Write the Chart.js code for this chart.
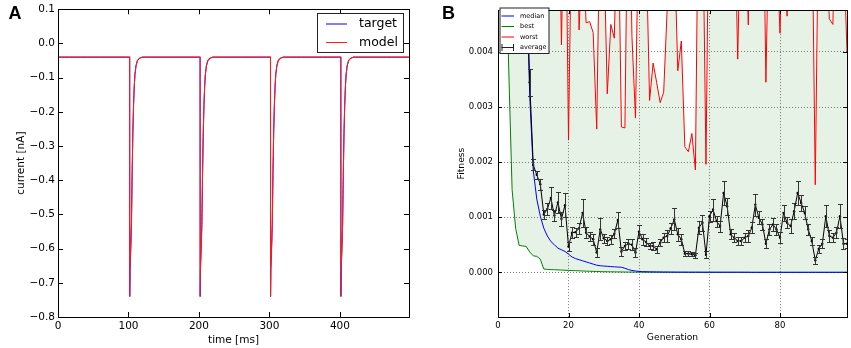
<!DOCTYPE html>
<html>
<head>
<meta charset="utf-8">
<script src="https://cdn.jsdelivr.net/npm/chart.js@4.4.0/dist/chart.umd.min.js"></script>
<style>
html, body { margin: 0; padding: 0; background: #fff; }
#wrap { position: relative; width: 851px; height: 348px; }
.panel { position: absolute; top: 0; height: 348px; }
#pa { left: 0; width: 430px; }
#pb { left: 430px; width: 421px; }
</style>
</head>
<body>
<div id="wrap">
  <div class="panel" id="pa"><canvas id="chartA"></canvas></div>
  <div class="panel" id="pb"><canvas id="chartB"></canvas></div>
</div>
<script>
// ---- panel A: current trace ----
const restCurrent = -0.04;
const timeMax = 498;
const spikeTimes = [101.7, 201.6, 301.5, 401.3];
// shape of one spike: offset [ms] after onset, current [nA]
const spikeDt = [0, 0.1, 0.5, 1.5, 2.5, 3.5, 4.5, 5.5, 6.5, 7.5, 9, 11, 14, 18];
const spikeI = [-0.04, -0.74, -0.66, -0.6, -0.53, -0.38, -0.26, -0.18, -0.125, -0.09, -0.065, -0.05, -0.043, -0.04];
const xTicksA = [0, 100, 200, 300, 400];
const yTicksA = [-0.8, -0.7, -0.6, -0.5, -0.4, -0.3, -0.2, -0.1, 0.0, 0.1];

// ---- panel B: fitness per generation (values in units of 1e-3) ----
const FIT = 1e-3;
const medianFit = [14, 13, 12, 11, 10, 9, 8, 7, 5.4, 3.2,
  1.85, 1.33, 1.02, 0.8, 0.66, 0.56, 0.5, 0.44, 0.41, 0.38,
  0.33, 0.28, 0.25, 0.23, 0.21, 0.19, 0.17, 0.15, 0.13, 0.12,
  0.115, 0.11, 0.105, 0.1, 0.097, 0.093, 0.075, 0.05, 0.035, 0.025,
  0.018, 0.014, 0.012, 0.01, 0.009, 0.008, 0.007, 0.006, 0.006, 0.005,
  0.005, 0.004, 0.004, 0.004, 0.003, 0.003, 0.003, 0.003, 0.002, 0.002,
  0.002, 0.002, 0.002, 0.002, 0.002, 0.002, 0.002, 0.002, 0.002, 0.002,
  0.002, 0.002, 0.001, 0.001, 0.001, 0.001, 0.001, 0.001, 0.001, 0.001,
  0.001, 0.001, 0.001, 0.001, 0.001, 0.001, 0.001, 0.001, 0.001, 0.001,
  0.001, 0.001, 0.001, 0.001, 0.001, 0.001, 0.001, 0.001, 0.001, 0.001];
const bestFit = [11, 9, 7, 3.8, 1.5, 0.8, 0.49, 0.48, 0.47, 0.37,
  0.3, 0.29, 0.24, 0.06, 0.055, 0.05, 0.048, 0.045, 0.042, 0.038,
  0.035, 0.032, 0.03, 0.028, 0.025, 0.022, 0.02, 0.018, 0.016, 0.014,
  0.012, 0.011, 0.01, 0.009, 0.008, 0.007, 0.006, 0.005, 0.005, 0.004,
  0.004, 0.003, 0.003, 0.003, 0.003, 0.003, 0.003, 0.003, 0.003, 0.003,
  0.002, 0.002, 0.002, 0.002, 0.002, 0.002, 0.002, 0.002, 0.002, 0.002,
  0.002, 0.002, 0.002, 0.002, 0.002, 0.002, 0.002, 0.002, 0.002, 0.002,
  0.001, 0.001, 0.001, 0.001, 0.001, 0.001, 0.001, 0.001, 0.001, 0.001,
  0.001, 0.001, 0.001, 0.001, 0.001, 0.001, 0.001, 0.001, 0.001, 0.001,
  0.001, 0.001, 0.001, 0.001, 0.001, 0.001, 0.001, 0.001, 0.001, 0.001];
const worstFit = [14, 13, 12, 12, 11, 11, 10, 10, 9, 9,
  8, 7, 6, 4.6, 8, 8, 7, 8, 4.13, 8,
  2.4, 7, 8, 4.4, 6, 4.53, 4.55, 4.35, 2.6, 7,
  6, 3.24, 4.5, 4.25, 7, 2.64, 2.62, 8, 4.28, 2.8,
  7, 8, 6, 3.12, 3.8, 3.45, 3.08, 3.27, 4.8, 8,
  6, 3.66, 4.2, 2.28, 2.19, 2.52, 1.86, 8, 7, 1.96,
  8, 7, 8, 6, 9, 7, 8, 7, 3.87, 7,
  7, 4.49, 8, 7, 6, 8, 3.45, 7, 8, 6,
  4.34, 7, 4.65, 8, 7, 8, 7, 6, 8, 7,
  1.59, 7, 8, 6, 4.6, 4.5, 8, 7, 6, 3.99];
const avgFit = [12, 11, 10.5, 10, 9.5, 9, 8.5, 7.5, 5.6, 3.45,
  1.95, 1.77, 1.6, 1.05, 1.15, 1.35, 1.03, 1.27, 0.97, 1.22,
  0.47, 0.72, 0.73, 0.8, 1.08, 0.72, 0.65, 0.6, 0.36, 0.78,
  0.62, 0.57, 0.6, 0.7, 0.95, 0.38, 0.48, 0.52, 0.5, 0.36,
  0.74, 0.6, 0.55, 0.48, 0.48, 0.42, 0.54, 0.63, 0.66, 0.8,
  0.96, 0.69, 0.6, 0.34, 0.34, 0.33, 0.31, 0.81, 0.9, 0.32,
  1.02, 1.14, 0.93, 0.84, 1.44, 1.2, 0.69, 0.63, 0.57, 0.57,
  0.63, 0.66, 0.81, 1.23, 0.99, 0.87, 0.52, 0.78, 0.87, 0.78,
  0.63, 1.08, 0.9, 0.84, 1.11, 1.44, 1.26, 1.08, 0.78, 0.57,
  0.22, 0.43, 0.52, 1.02, 0.66, 0.63, 0.72, 1.02, 0.52, 0.52];
const avgErr = [0.5, 0.5, 0.5, 0.5, 0.5, 0.5, 0.5, 0.5, 0.4, 0.24,
  0.1, 0.07, 0.1, 0.08, 0.1, 0.2, 0.1, 0.19, 0.12, 0.22,
  0.08, 0.1, 0.08, 0.1, 0.25, 0.1, 0.08, 0.1, 0.08, 0.2,
  0.08, 0.07, 0.08, 0.08, 0.15, 0.08, 0.08, 0.09, 0.1, 0.08,
  0.12, 0.1, 0.07, 0.06, 0.07, 0.06, 0.07, 0.08, 0.1, 0.1,
  0.2, 0.12, 0.1, 0.05, 0.04, 0.04, 0.05, 0.12, 0.15, 0.06,
  0.1, 0.2, 0.1, 0.1, 0.22, 0.15, 0.09, 0.08, 0.07, 0.07,
  0.08, 0.1, 0.1, 0.2, 0.12, 0.1, 0.08, 0.1, 0.12, 0.1,
  0.1, 0.15, 0.1, 0.12, 0.15, 0.22, 0.15, 0.12, 0.1, 0.08,
  0.06, 0.07, 0.08, 0.2, 0.1, 0.08, 0.1, 0.22, 0.1, 0.08];
const generations = medianFit.map((_, i) => i);
const xTicksB = [0, 20, 40, 60, 80];
const yTicksB = [0, 0.001, 0.002, 0.003, 0.004];

// build trace points for panel A
const tracePts = [{x: 0, y: restCurrent}];
spikeTimes.forEach(t0 => {
  spikeDt.forEach((dt, i) => tracePts.push({x: t0 + dt, y: spikeI[i]}));
});
tracePts.push({x: timeMax, y: restCurrent});

function fitSeries(vals) {
  return vals.map((v, i) => ({x: generations[i], y: v * FIT}));
}

// frame + matplotlib-style inward ticks on all four sides
function frameTicks(len) {
  return {
    id: 'frameTicks',
    afterDraw(chart) {
      const {ctx, chartArea: a, scales: {x, y}} = chart;
      ctx.save();
      ctx.strokeStyle = '#000';
      ctx.lineWidth = 1;
      ctx.beginPath();
      x.ticks.forEach(t => {
        const px = Math.round(x.getPixelForValue(t.value)) + 0.5;
        ctx.moveTo(px, a.bottom); ctx.lineTo(px, a.bottom - len);
        ctx.moveTo(px, a.top); ctx.lineTo(px, a.top + len);
      });
      y.ticks.forEach(t => {
        const py = Math.round(y.getPixelForValue(t.value)) + 0.5;
        ctx.moveTo(a.left, py); ctx.lineTo(a.left + len, py);
        ctx.moveTo(a.right, py); ctx.lineTo(a.right - len, py);
      });
      ctx.stroke();
      ctx.strokeRect(Math.round(a.left) + 0.5, Math.round(a.top) + 0.5,
        Math.round(a.right - a.left), Math.round(a.bottom - a.top));
      ctx.restore();
    }
  };
}

function panelLetter(text, px, py) {
  return {
    id: 'panelLetter',
    afterDraw(chart) {
      const ctx = chart.ctx;
      ctx.save();
      ctx.font = 'bold 18px "Liberation Sans", Arial, sans-serif';
      ctx.fillStyle = '#000';
      ctx.textAlign = 'center';
      ctx.textBaseline = 'middle';
      ctx.fillText(text, px, py);
      ctx.restore();
    }
  };
}

// legend box drawn inside the plot like matplotlib's
function boxLegend(opt) {
  return {
    id: 'boxLegend',
    afterDraw(chart) {
      const ctx = chart.ctx;
      ctx.save();
      ctx.fillStyle = '#fff';
      ctx.strokeStyle = '#222';
      ctx.lineWidth = 1;
      ctx.fillRect(opt.x, opt.y, opt.w, opt.h);
      ctx.strokeRect(opt.x + 0.5, opt.y + 0.5, opt.w, opt.h);
      ctx.font = opt.font;
      ctx.textBaseline = 'middle';
      ctx.fillStyle = '#000';
      opt.items.forEach((it, i) => {
        const ly = opt.y + opt.first + i * opt.step;
        ctx.strokeStyle = it.color;
        ctx.beginPath();
        ctx.moveTo(opt.x + opt.lineX0, ly);
        ctx.lineTo(opt.x + opt.lineX1, ly);
        if (it.errbar) {
          ctx.moveTo(opt.x + opt.lineX0 + 0.5, ly - 3.5); ctx.lineTo(opt.x + opt.lineX0 + 0.5, ly + 3.5);
          ctx.moveTo(opt.x + opt.lineX1 - 0.5, ly - 3.5); ctx.lineTo(opt.x + opt.lineX1 - 0.5, ly + 3.5);
        }
        ctx.stroke();
        ctx.fillText(it.label, opt.x + opt.textX, ly);
      });
      ctx.restore();
    }
  };
}

const errorBars = {
  id: 'errorBars',
  afterDatasetsDraw(chart) {
    const {ctx, chartArea: a, scales: {x, y}} = chart;
    ctx.save();
    ctx.beginPath();
    ctx.rect(a.left, a.top, a.right - a.left, a.bottom - a.top);
    ctx.clip();
    ctx.strokeStyle = '#333';
    ctx.lineWidth = 1;
    ctx.beginPath();
    avgFit.forEach((v, i) => {
      const px = Math.round(x.getPixelForValue(generations[i])) + 0.5;
      const y1 = Math.round(y.getPixelForValue((v - avgErr[i]) * FIT)) + 0.5;
      const y2 = Math.round(y.getPixelForValue((v + avgErr[i]) * FIT)) + 0.5;
      ctx.moveTo(px, y1); ctx.lineTo(px, y2);
      ctx.moveTo(px - 2.5, y1); ctx.lineTo(px + 2.5, y1);
      ctx.moveTo(px - 2.5, y2); ctx.lineTo(px + 2.5, y2);
    });
    ctx.stroke();
    ctx.restore();
  }
};

const FONT = '"DejaVu Sans", sans-serif';
const minus = s => s.replace('-', '\u2212');

// a tiny tension keeps Chart.js off its pixel-collapsing fast path,
// which otherwise turns the sub-pixel spike recovery into steps
new Chart(document.getElementById('chartA'), {
  type: 'line',
  data: {
    datasets: [
      {label: 'model', data: tracePts, borderColor: '#ff1a1a', borderWidth: 1.1, pointRadius: 0, tension: 0.0001},
      {label: 'target', data: tracePts, borderColor: '#0000ff', borderWidth: 1, pointRadius: 0, tension: 0.0001}
    ]
  },
  options: {
    animation: false,
    responsive: true,
    maintainAspectRatio: false,
    layout: {padding: {top: 7, right: 21, left: 0, bottom: 0}},
    plugins: {legend: {display: false}, tooltip: {enabled: false}},
    scales: {
      x: {
        type: 'linear', min: 0, max: timeMax,
        afterBuildTicks: s => { s.ticks = xTicksA.map(v => ({value: v})); },
        afterFit: s => { s.height = 31; },
        grid: {display: false, drawTicks: false},
        border: {display: false},
        ticks: {color: '#000', padding: 3, font: {family: FONT, size: 10.5}, callback: v => String(v)},
        title: {display: true, text: 'time [ms]', color: '#000', font: {family: FONT, size: 10.5}, padding: {top: 0, bottom: 1}}
      },
      y: {
        min: -0.8, max: 0.1,
        afterBuildTicks: s => { s.ticks = yTicksA.map(v => ({value: v})); },
        afterFit: s => { s.width = 58; },
        grid: {display: false, drawTicks: false},
        border: {display: false},
        ticks: {color: '#000', padding: 3, font: {family: FONT, size: 10.5}, callback: v => minus(v.toFixed(1))},
        title: {display: true, text: 'current [nA]', color: '#000', font: {family: FONT, size: 10.5}, padding: {top: 15, bottom: 0}}
      }
    }
  },
  plugins: [
    frameTicks(5),
    panelLetter('A', 15, 14),
    boxLegend({x: 317, y: 13, w: 86, h: 39, font: '12.5px ' + FONT, first: 11, step: 18.5,
      lineX0: 9, lineX1: 30, textX: 42,
      items: [{label: 'target', color: '#0000ff'}, {label: 'model', color: '#ff1a1a'}]})
  ]
});

new Chart(document.getElementById('chartB'), {
  type: 'line',
  data: {
    datasets: [
      {label: 'average', data: fitSeries(avgFit), borderColor: '#000', borderWidth: 1,
       pointRadius: 1.2, pointBackgroundColor: '#000', pointBorderWidth: 0, tension: 0},
      {label: 'median', data: fitSeries(medianFit), borderColor: '#0000ff', borderWidth: 1, pointRadius: 0, tension: 0},
      {label: 'best', data: fitSeries(bestFit), borderColor: '#008000', borderWidth: 1, pointRadius: 0, tension: 0},
      {label: 'worst', data: fitSeries(worstFit), borderColor: '#ff0000', borderWidth: 1, pointRadius: 0, tension: 0,
       fill: 2, backgroundColor: 'rgba(0,128,0,0.1)'}
    ]
  },
  options: {
    animation: false,
    responsive: true,
    maintainAspectRatio: false,
    layout: {padding: {top: 7, right: 2, left: 0, bottom: 0}},
    plugins: {legend: {display: false}, tooltip: {enabled: false}},
    scales: {
      x: {
        type: 'linear', min: 0, max: 99,
        afterBuildTicks: s => { s.ticks = xTicksB.map(v => ({value: v})); },
        afterFit: s => { s.height = 31; },
        grid: {display: true, drawTicks: false, color: 'rgba(0,0,0,0.5)', lineWidth: 1},
        border: {display: false, dash: [1, 2]},
        ticks: {color: '#000', padding: 4, font: {family: FONT, size: 8.5}, callback: v => String(v)},
        title: {display: true, text: 'Generation', color: '#000', font: {family: FONT, size: 9.2}, padding: {top: 0, bottom: 5}}
      },
      y: {
        min: -0.00081, max: 0.00476,
        afterBuildTicks: s => { s.ticks = yTicksB.map(v => ({value: v})); },
        afterFit: s => { s.width = 68; },
        grid: {display: true, drawTicks: false, color: 'rgba(0,0,0,0.5)', lineWidth: 1},
        border: {display: false, dash: [1, 2]},
        ticks: {color: '#000', padding: 5, font: {family: FONT, size: 8.5}, callback: v => v.toFixed(3)},
        title: {display: true, text: 'Fitness', color: '#000', font: {family: FONT, size: 9.2}, padding: {top: 26, bottom: 0}}
      }
    }
  },
  plugins: [
    errorBars,
    frameTicks(4),
    panelLetter('B', 18.5, 14),
    boxLegend({x: 69.5, y: 7.5, w: 49, h: 45.5, font: '6.5px ' + FONT, first: 8.5, step: 10.5,
      lineX0: 2, lineX1: 14.5, textX: 20.5,
      items: [{label: 'median', color: '#0000ff'}, {label: 'best', color: '#008000'},
              {label: 'worst', color: '#ff0000'}, {label: 'average', color: '#222', errbar: true}]})
  ]
});
</script>
</body>
</html>
